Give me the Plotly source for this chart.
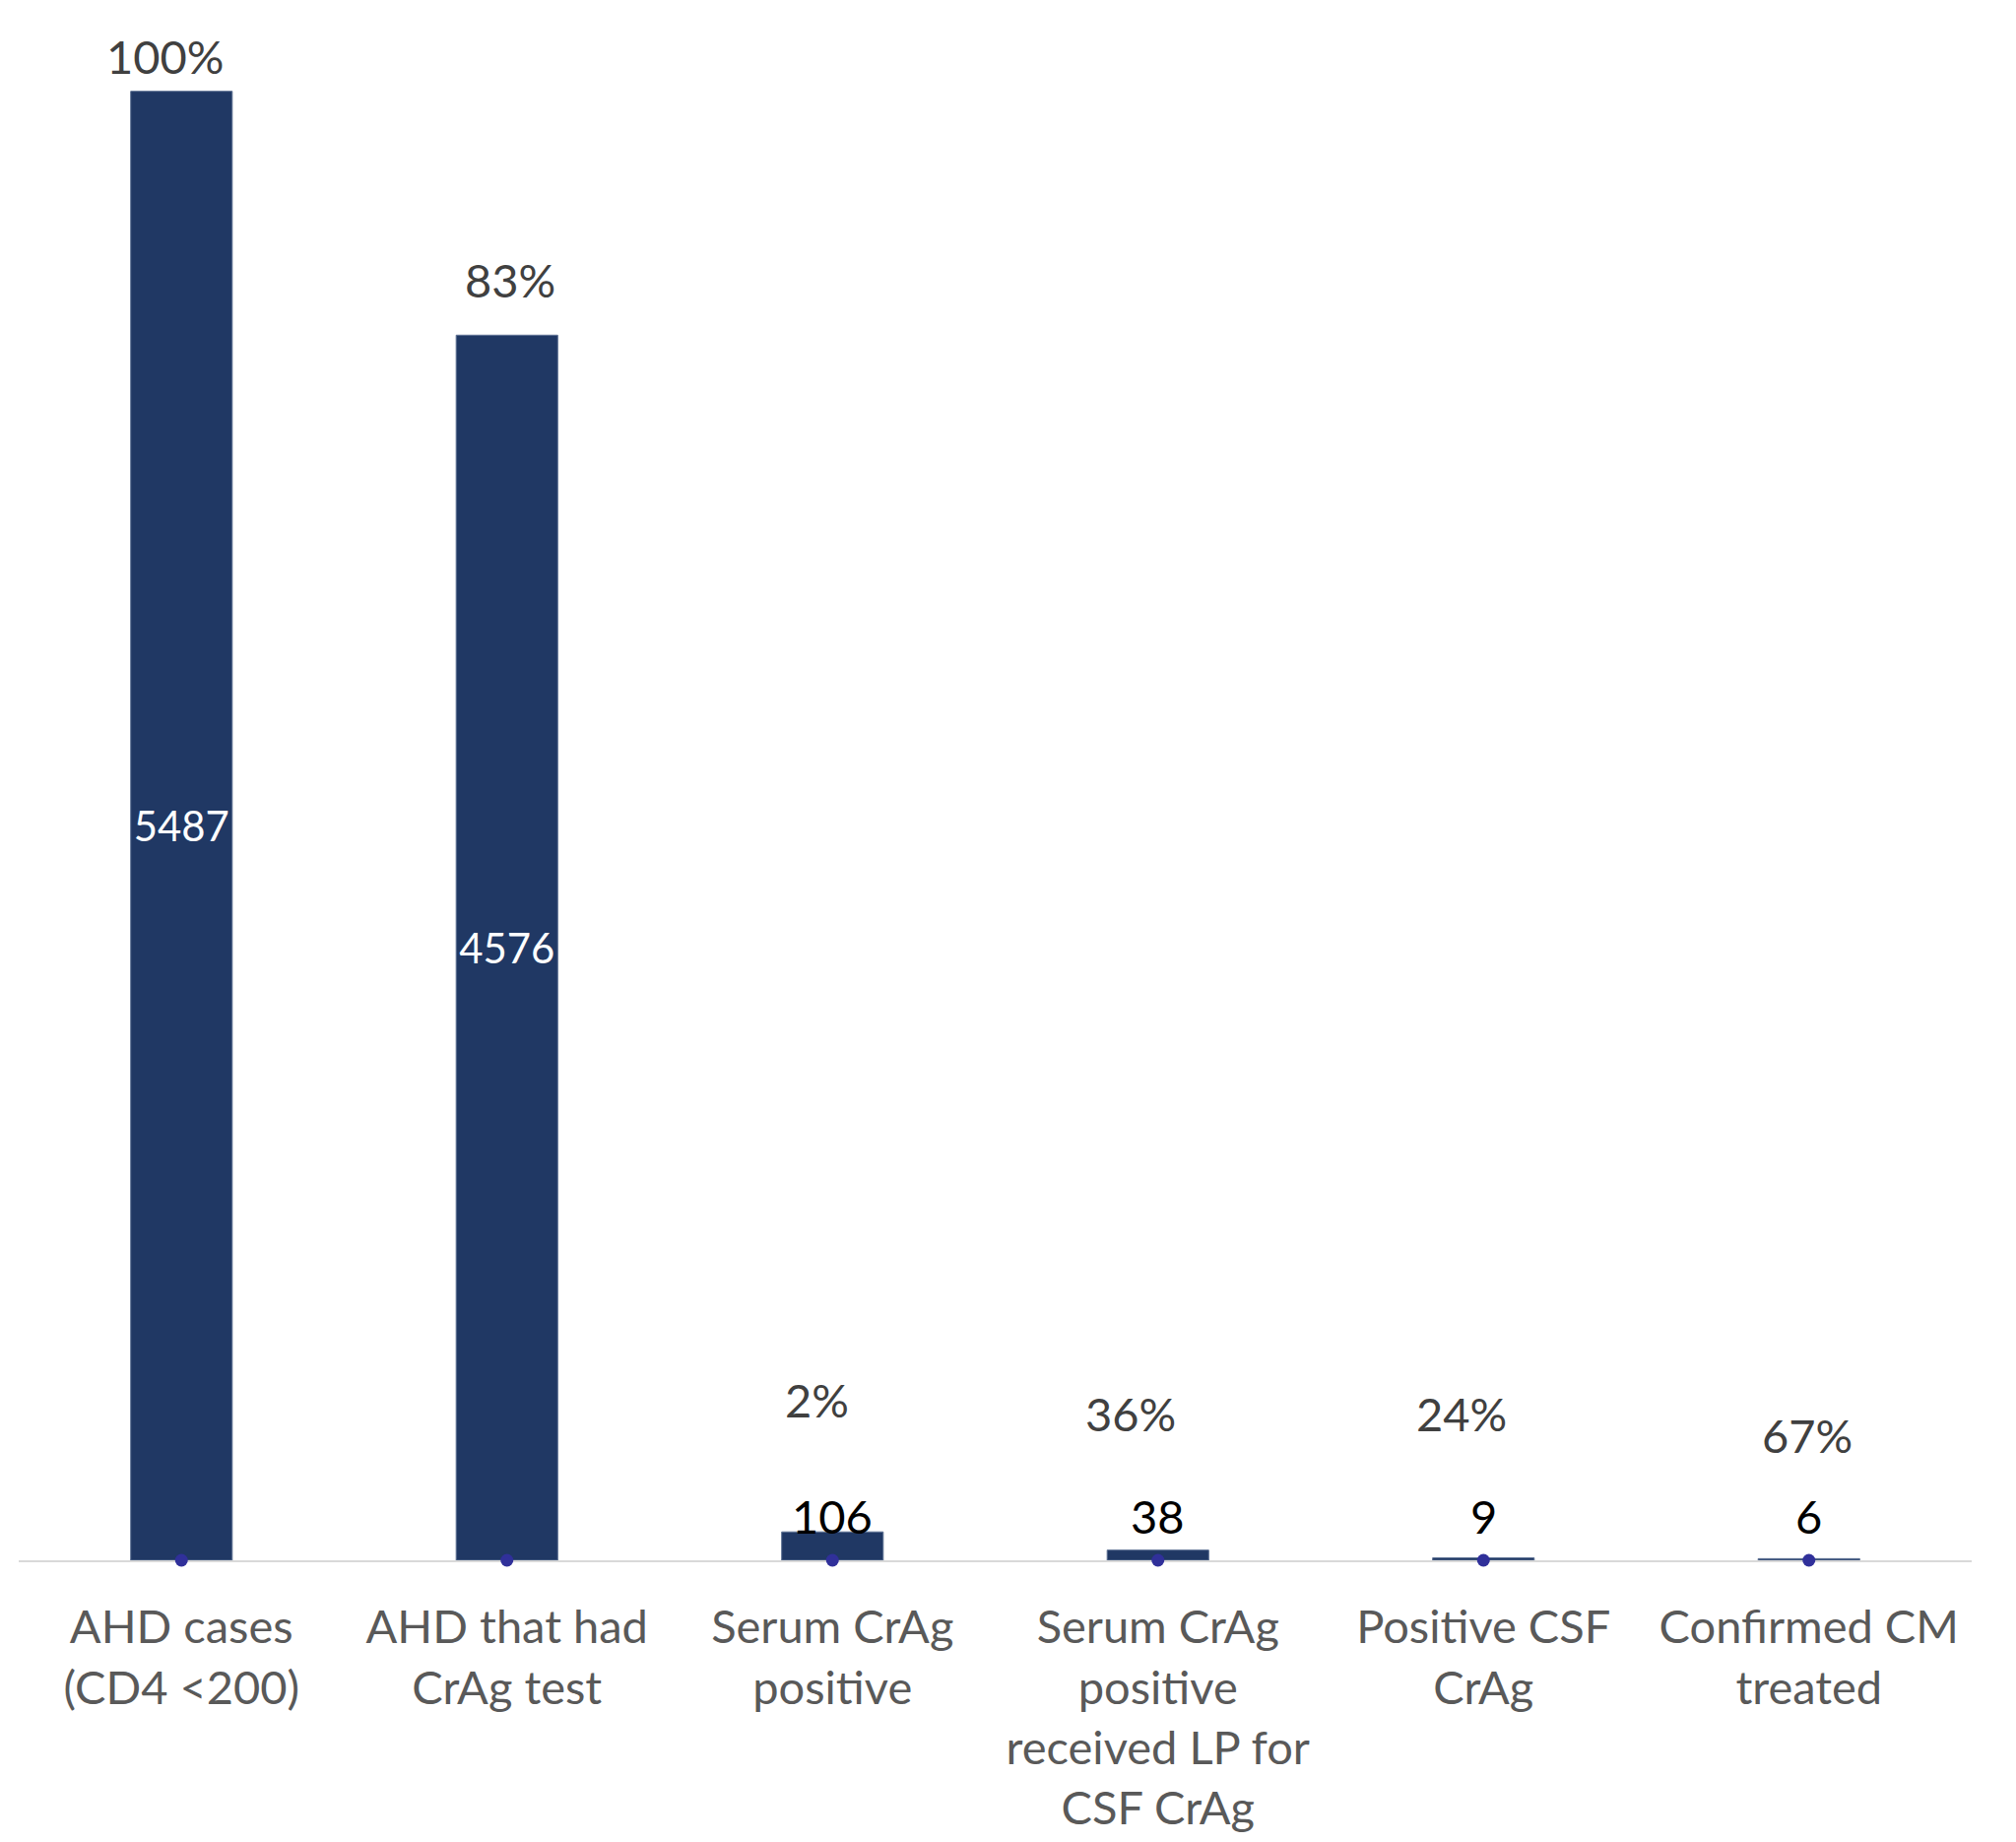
import plotly.graph_objects as go

# ---------------- data ----------------
categories = [
    "AHD cases<br>(CD4 <200)",
    "AHD that had<br>CrAg test",
    "Serum CrAg<br>positive",
    "Serum CrAg<br>positive<br>received LP for<br>CSF CrAg",
    "Positive CSF<br>CrAg",
    "Confirmed CM<br>treated",
]
counts = [5487, 4576, 106, 38, 9, 6]
percent_labels = ["100%", "83%", "2%", "36%", "24%", "67%"]

# ---------------- layout helpers (label placement, not data) ----------------
pct_label_y = [5620, 4784, 600, 550, 550, 466]      # vertical placement of % labels (axis units)
pct_label_dx = [-17, 3, -16, -28, -22, -2]           # horizontal nudge of % labels (px)
inside_label = [True, True, False, False, False, False]

FONT = "Lato"
FS = 47
BAR_COLOR = "#203864"
DOT_COLOR = "#30309A"

fig = go.Figure()

fig.add_trace(go.Bar(
    x=categories,
    y=counts,
    width=0.312,
    marker=dict(color=BAR_COLOR, line=dict(color="#5B6F92", width=1)),
    text=[str(c) if ins else "" for c, ins in zip(counts, inside_label)],
    textposition=["inside" if ins else "none" for ins in inside_label],
    insidetextanchor="middle",
    textangle=0,
    textfont=dict(family=FONT, size=FS, color="white"),
    showlegend=False,
    hoverinfo="skip",
))

fig.add_trace(go.Scatter(
    x=categories,
    y=[0] * len(categories),
    mode="markers",
    marker=dict(color=DOT_COLOR, size=13),
    cliponaxis=False,
    showlegend=False,
    hoverinfo="skip",
))

annotations = []
for cat, c, ins in zip(categories, counts, inside_label):
    if not ins:
        annotations.append(dict(
            x=cat, y=0, xref="x", yref="y", text=str(c), showarrow=False,
            yanchor="middle", yshift=45,
            font=dict(family=FONT, size=FS, color="black"),
        ))
for cat, p, py, dx in zip(categories, percent_labels, pct_label_y, pct_label_dx):
    annotations.append(dict(
        x=cat, y=py, xref="x", yref="y", text=p, showarrow=False,
        yanchor="middle", xshift=dx,
        font=dict(family=FONT, size=FS, color="#404040"),
    ))

fig.update_layout(
    width=2047,
    height=1870,
    margin=dict(l=19, r=45, t=0, b=286),
    paper_bgcolor="white",
    plot_bgcolor="white",
    annotations=annotations,
    xaxis=dict(
        type="category",
        range=[-0.5, 5.5],
        showline=True,
        linecolor="#D9D9D9",
        linewidth=2,
        showgrid=False,
        zeroline=False,
        ticks="outside",
        ticklen=26,
        tickcolor="rgba(0,0,0,0)",
        tickfont=dict(family=FONT, size=FS, color="#595959"),
        tickangle=0,
        layer="below traces",
    ),
    yaxis=dict(
        range=[0, 5828],
        visible=False,
        showgrid=False,
        zeroline=False,
    ),
)

fig.write_html("out.html")
